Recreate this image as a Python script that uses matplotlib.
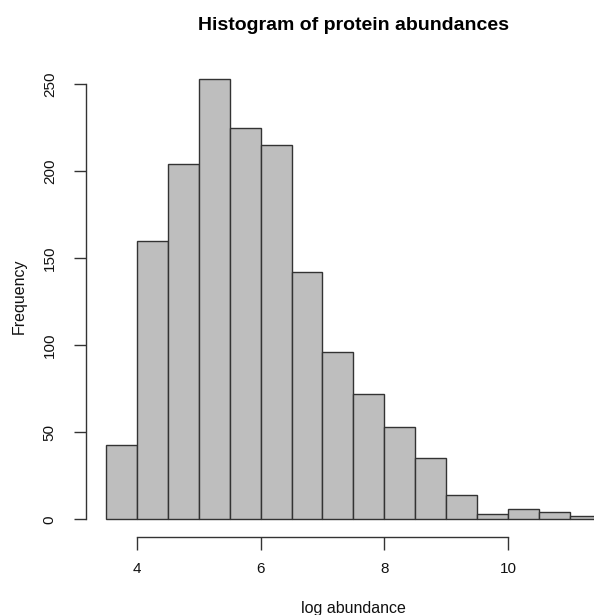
import numpy as np
import matplotlib
matplotlib.use("Agg")
import matplotlib.pyplot as plt

plt.rcParams['font.family'] = ['Liberation Sans', 'DejaVu Sans']

# Histogram bins of log protein abundance (width 0.5) and their counts
bin_edges = [3.5, 4.0, 4.5, 5.0, 5.5, 6.0, 6.5, 7.0, 7.5, 8.0, 8.5,
             9.0, 9.5, 10.0, 10.5, 11.0, 11.5]
counts = [43, 160, 204, 253, 225, 215, 142, 96, 72, 53, 35, 14, 3, 6, 4, 2]
x_ticks = [4, 6, 8, 10]
y_ticks = [0, 50, 100, 150, 200, 250]

W, H = 594, 615
fig = plt.figure(figsize=(W / 100, H / 100), dpi=100)

# plot region in pixels (left, top, right, bottom)
left, top, right, bottom = 86, 61.5, 620.8, 537
ax = fig.add_axes([left / W, 1 - bottom / H, (right - left) / W, (bottom - top) / H])

edges = np.array(bin_edges)
ax.bar(edges[:-1], counts, width=np.diff(edges), align='edge',
       color='#BEBEBE', edgecolor='#333333', linewidth=1.0)

lo, hi = edges[0], edges[-1]
pad_x = 0.04 * (hi - lo)
ax.set_xlim(lo - pad_x, hi + pad_x)
ymax = max(counts)
ax.set_ylim(-0.04 * ymax, ymax * 1.04)

for s in ['top', 'right']:
    ax.spines[s].set_visible(False)
ax.spines['left'].set_bounds(y_ticks[0], y_ticks[-1])
ax.spines['bottom'].set_bounds(x_ticks[0], x_ticks[-1])
for s in ['left', 'bottom']:
    ax.spines[s].set_color('#333333')
    ax.spines[s].set_linewidth(1.0)

ax.set_xticks(x_ticks)
ax.set_yticks(y_ticks)
ax.set_yticklabels([str(v) for v in y_ticks], rotation=90, va='center')
ax.tick_params(axis='both', length=9, width=1.0, color='#333333',
               labelsize=11, labelcolor='#111111')
ax.tick_params(axis='x', pad=9)
ax.tick_params(axis='y', pad=12)

fig.text(353 / W, 1 - 26 / H, 'Histogram of protein abundances',
         ha='center', va='center', fontsize=14, fontweight='bold')
fig.text(353 / W, 1 - 609 / H, 'log abundance', ha='center', va='center',
         fontsize=11.5, color='#111111')
fig.text(19 / W, 1 - 296 / H, 'Frequency', ha='center', va='center',
         rotation=90, fontsize=11.5, color='#111111')

fig.savefig('out.png', dpi=100)
